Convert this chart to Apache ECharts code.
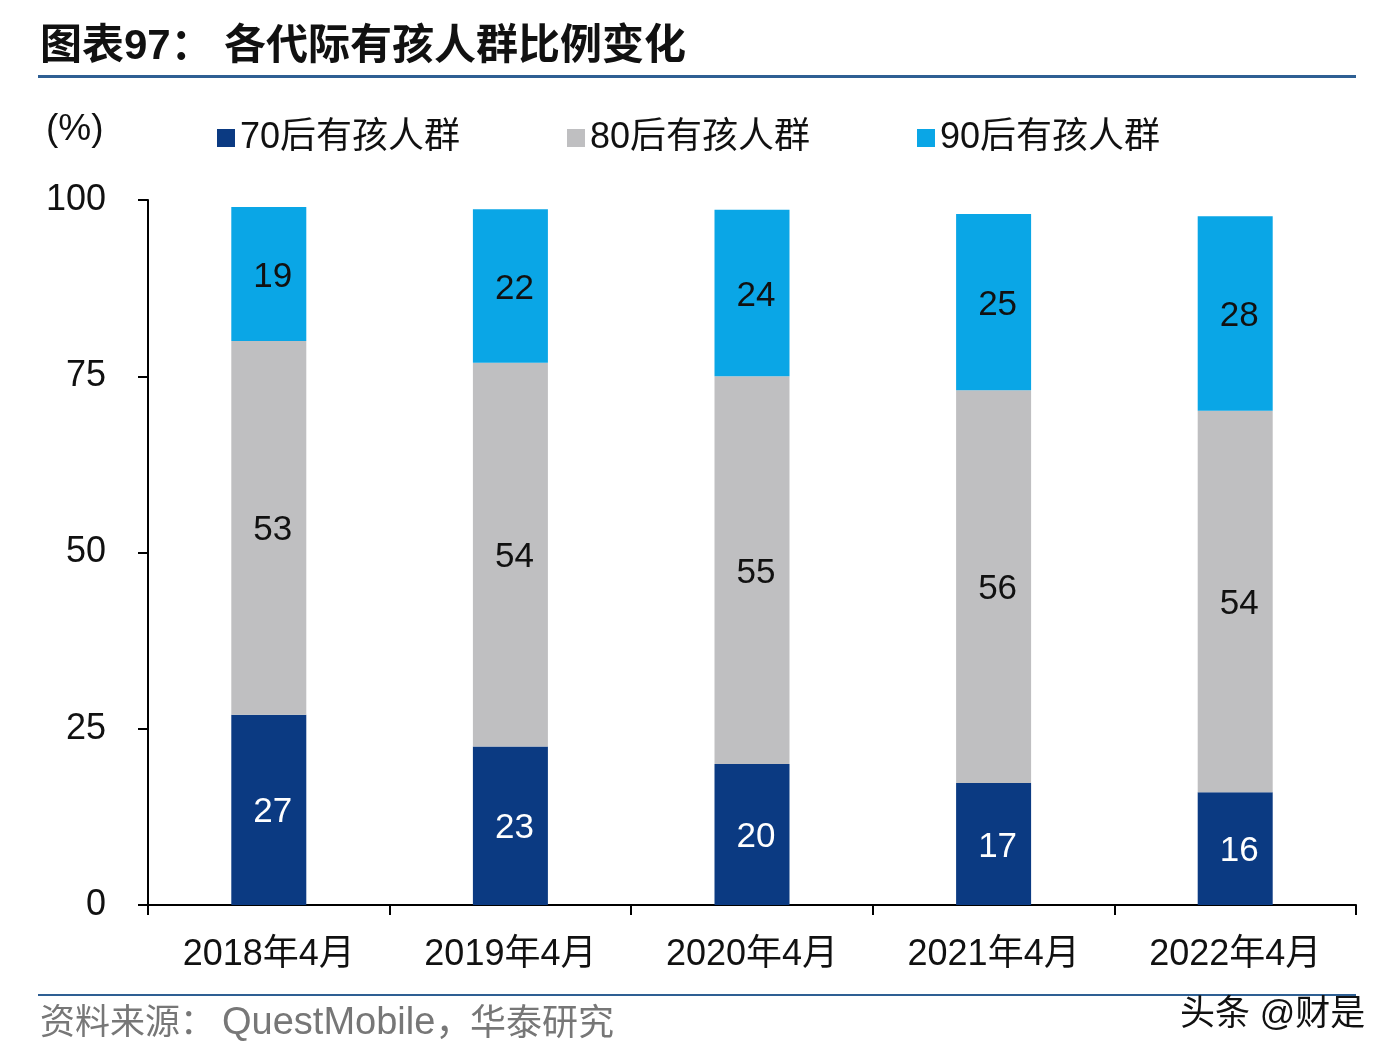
<!DOCTYPE html>
<html>
<head>
<meta charset="utf-8">
<script src="https://cdn.jsdelivr.net/npm/echarts@6/dist/echarts.min.js"></script>
<style>
html,body{margin:0;padding:0;background:#fff;}
#chart{width:1396px;height:1064px;}
</style>
</head>
<body>
<div id="chart"></div>
<script>
const categories = ['2018年4月', '2019年4月', '2020年4月', '2021年4月', '2022年4月'];
const seriesNames = ['70后有孩人群', '80后有孩人群', '90后有孩人群'];
const s70 = [27, 22.5, 20, 17.3, 16];
const s80 = [53, 54.4, 55, 55.7, 54.1];
const s90 = [19, 21.8, 23.6, 25, 27.6];
const yTicks = [0, 25, 50, 75, 100];

const FONT = '"Liberation Sans", Arial, "Noto Sans CJK SC", sans-serif';
const colors = ['#0B3A82', '#BFBFC1', '#0AA6E6'];

const chart = echarts.init(document.getElementById('chart'));

function mkSeries(name, data, color, labelColor) {
  return {
    name: name, type: 'bar', stack: 'total', data: data, barWidth: 75,
    itemStyle: { color: color },
    label: {
      show: true, position: 'inside', color: labelColor,
      fontFamily: FONT, fontSize: 35, offset: [4, 3],
      formatter: p => Math.round(p.value)
    }
  };
}

function mkLegend(name, left) {
  return {
    data: [name], left: left, top: 115, icon: 'rect',
    itemWidth: 18, itemHeight: 18, itemGap: 0,
    textStyle: { fontFamily: FONT, fontSize: 36, color: '#111', padding: [2, 0, 0, 0] },
    selectedMode: false
  };
}

const srcStyle = (t, size) => ({ text: t, fontFamily: FONT, fontSize: size, fill: '#777' });

chart.setOption({
  animation: false,
  backgroundColor: '#fff',
  legend: [mkLegend(seriesNames[0], 212), mkLegend(seriesNames[1], 562), mkLegend(seriesNames[2], 912)],
  grid: { left: 148, right: 40, top: 200, bottom: 159 },
  xAxis: {
    type: 'category', data: categories,
    axisLine: { lineStyle: { color: '#000', width: 2 } },
    axisTick: { show: true, length: 10, lineStyle: { color: '#000', width: 2 } },
    axisLabel: { color: '#111', fontFamily: FONT, fontSize: 36, margin: 32 }
  },
  yAxis: {
    type: 'value', min: 0, max: 100, interval: 25,
    axisLine: { show: true, lineStyle: { color: '#000', width: 2 } },
    axisTick: { show: true, length: 10, lineStyle: { color: '#000', width: 2 } },
    splitLine: { show: false },
    axisLabel: {
      color: '#111', fontFamily: FONT, fontSize: 36, margin: 42,
      formatter: v => yTicks.includes(v) ? String(v) : ''
    }
  },
  series: [
    mkSeries(seriesNames[0], s70, colors[0], '#fff'),
    mkSeries(seriesNames[1], s80, colors[1], '#111'),
    mkSeries(seriesNames[2], s90, colors[2], '#111')
  ],
  graphic: [
    { type: 'text', left: 40, top: 26, style: { text: '图表97：', fontFamily: FONT, fontSize: 42, fontWeight: 'bold', fill: '#111' } },
    { type: 'text', left: 224, top: 26, style: { text: '各代际有孩人群比例变化', fontFamily: FONT, fontSize: 42, fontWeight: 'bold', fill: '#111' } },
    { type: 'rect', shape: { x: 38, y: 75, width: 1318, height: 3 }, style: { fill: '#2E5F93' } },
    { type: 'text', left: 46, top: 111, style: { text: '(%)', fontFamily: FONT, fontSize: 37, fill: '#111' } },
    { type: 'rect', shape: { x: 38, y: 994, width: 1318, height: 2 }, style: { fill: '#2E5F93' } },
    { type: 'text', left: 40, top: 1007, style: srcStyle('资料来源：', 35) },
    { type: 'text', left: 222, top: 1005, style: srcStyle('QuestMobile，', 38) },
    { type: 'text', left: 470, top: 1007, style: srcStyle('华泰研究', 36) },
    { type: 'text', left: 1180, top: 998, style: { text: '头条 @财是', fontFamily: FONT, fontSize: 35, fill: '#111' } }
  ]
});
</script>
</body>
</html>
